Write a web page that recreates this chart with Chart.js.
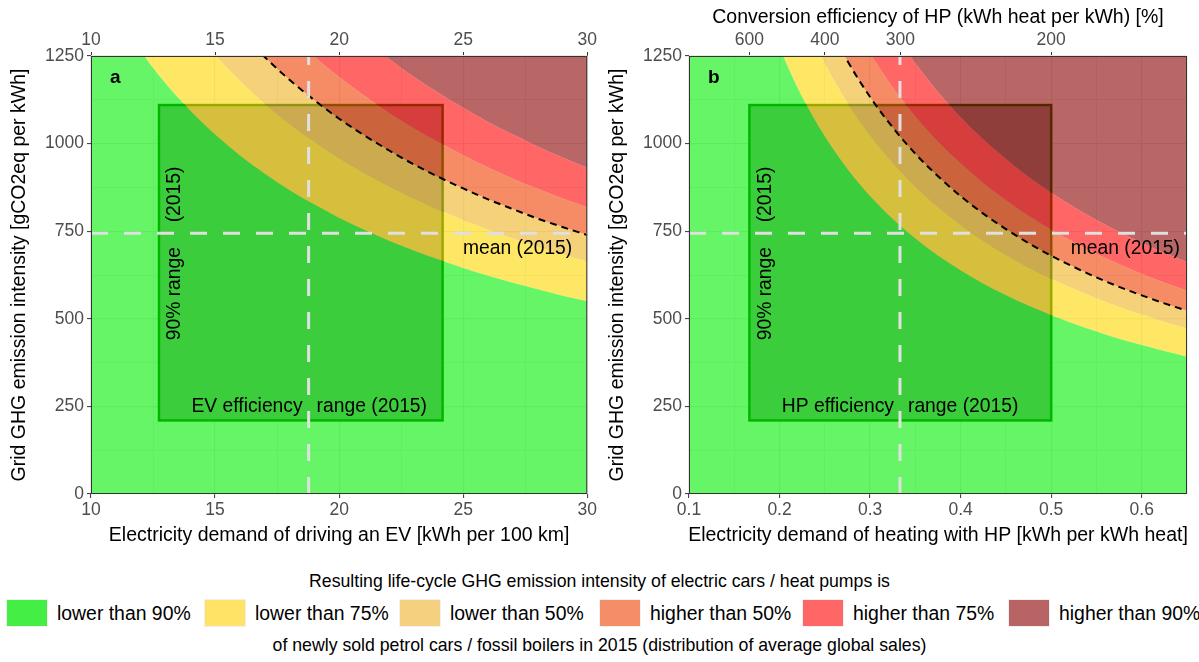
<!DOCTYPE html>
<html><head><meta charset="utf-8">
<script src="https://cdn.jsdelivr.net/npm/chart.js@4.4.1/dist/chart.umd.min.js"></script>
<style>
html,body{margin:0;padding:0;background:#fff;}
body{width:1199px;height:662px;overflow:hidden;position:relative;font-family:"Liberation Sans",Arial,Helvetica,sans-serif;}
canvas{position:absolute;top:0;}
.t{position:absolute;white-space:nowrap;color:#000;font-size:19.4px;line-height:22px;}
.t.c{font-size:17.7px;}
.k{position:absolute;width:42px;height:28px;top:599px;box-sizing:border-box;border:1px solid #f0f0f0;}
</style></head><body>
<canvas id="ca" width="600" height="560" style="left:0px"></canvas>
<canvas id="cb" width="599" height="560" style="left:600px"></canvas>
<div id="legend"></div>
<script>
// ---------- data ----------
// Panel a: electricity demand of EV [kWh/100km] vs. grid intensity boundaries [gCO2eq/kWh]
const evX    = [10,11,12,13,14,15,16,17,18,19,20,21,22,23,24,25,26,27,28,29,30];
const evP10  = [1502,1372,1264,1172,1094,1026,966,914,867,826,788,754,723,695,669,645,623,603,584,566,550];
const evP25  = [1842,1681,1547,1434,1337,1253,1179,1114,1056,1005,958,916,878,843,811,781,754,729,705,684,663];
const evP50  = [2069,1887,1736,1608,1499,1404,1321,1247,1182,1124,1071,1024,981,941,905,872,841,813,786,762,739];
const evP75  = [2306,2103,1934,1791,1668,1562,1469,1387,1314,1248,1190,1137,1088,1044,1004,967,932,900,871,843,818];
const evP90  = [2644,2410,2216,2051,1910,1787,1680,1586,1502,1427,1359,1298,1242,1191,1145,1102,1062,1026,992,960,931];
// Panel b: electricity demand of HP [kWh per kWh heat]
const hpX    = [0.1,0.15,0.175,0.2,0.225,0.25,0.275,0.3,0.325,0.35,0.375,0.4,0.425,0.45,0.475,0.5,0.525,0.55,0.575,0.6,0.625,0.65];
const hpP10  = [2550,1700,1457,1275,1133,1020,927,850,785,729,680,638,600,567,537,510,486,464,443,425,408,392];
const hpP25  = [3070,2047,1754,1535,1364,1228,1116,1023,945,877,819,768,722,682,646,614,585,558,534,512,491,472];
const hpP50  = [3400,2267,1943,1700,1511,1360,1236,1133,1046,971,907,850,800,756,716,680,648,618,591,567,544,523];
const hpP75  = [3770,2513,2154,1885,1676,1508,1371,1257,1160,1077,1005,943,887,838,794,754,718,685,656,628,603,580];
const hpP90  = [4300,2867,2457,2150,1911,1720,1564,1433,1323,1229,1147,1075,1012,956,905,860,819,782,748,717,688,662];
// 90% ranges (2015) and means
const evBoxX = [12.74, 24.17];
const hpBoxX = [0.1667, 0.5];
const gridBoxY = [210, 1110];
const gridMean = 744;
const evMeanDemand = 18.77;
const hpMeanDemand = 0.333;
// axis ranges and ticks
const evXRange = [10, 30];
const hpXRange = [0.1, 0.65];
const yRange = [0, 1250];
const hpTopTicks = [600, 400, 300, 200];   // conversion efficiency [%]
// legend
const legendLabels = ['lower than 90%','lower than 75%','lower than 50%','higher than 50%','higher than 75%','higher than 90%'];

// ---------- styles ----------
const FONT = '"Liberation Sans", Arial, Helvetica, sans-serif';
Chart.defaults.font.family = FONT;
const BAND = ['rgba(0,238,0,0.6)','rgba(255,215,0,0.6)','rgba(238,180,34,0.6)','rgba(238,64,0,0.6)','rgba(255,0,0,0.6)','rgba(139,0,0,0.6)'];
const KEY  = ['#44ee44','#ffe366','#f5d07e','#f58e68','#ff6666','#b96464'];
const TITLE_FONT = '19.5px ' + FONT;

function makePanel(id, o) {
  const pts = arr => o.xs.map((x, i) => ({x: x, y: arr[i]}));
  const band = (arr, fill, color) => ({data: pts(arr), fill: fill, backgroundColor: color,
      borderColor: 'rgba(0,0,0,0)', borderWidth: 0, pointRadius: 0,
      cubicInterpolationMode: 'monotone', order: 3});
  const datasets = [
    band(o.curves[0], 'origin', BAND[0]),
    band(o.curves[1], '-1', BAND[1]),
    band(o.curves[2], '-1', BAND[2]),
    band(o.curves[3], '-1', BAND[3]),
    band(o.curves[4], '-1', BAND[4]),
    band(o.curves[4], 'end', BAND[5]),
    {data: pts(o.curves[2]), fill: false, borderColor: '#000', borderWidth: 2, borderDash: [7, 5],
     pointRadius: 0, cubicInterpolationMode: 'monotone', order: 2},
    {data: [{x: o.range[0], y: gridMean}, {x: o.range[1], y: gridMean}], fill: false,
     borderColor: '#e0e0e0', borderWidth: 3, borderDash: [17, 16], pointRadius: 0, order: 1},
    {data: [{x: o.meanX, y: yRange[0]}, {x: o.meanX, y: yRange[1]}], fill: false,
     borderColor: '#e0e0e0', borderWidth: 3, borderDash: [17, 16], pointRadius: 0, order: 1}
  ];
  const isMajorX = v => o.isMajor(v);
  const tickFont = {family: FONT, size: 17.5, lineHeight: 1};
  const grid = (majorFn) => ({
    color: '#e8e8e8',
    lineWidth: c => (c.tick && majorFn(c.tick.value)) ? 1.2 : 0.7,
    tickLength: 4,
    tickColor: c => (c.tick && majorFn(c.tick.value)) ? '#333' : 'rgba(0,0,0,0)',
    tickWidth: 1
  });
  const panelPlugin = {
    id: 'panel_' + id,
    beforeDatasetsDraw(chart) {
      const {ctx, scales: {x, y}} = chart;
      const x0 = x.getPixelForValue(o.boxX[0]), x1 = x.getPixelForValue(o.boxX[1]);
      const y0 = y.getPixelForValue(gridBoxY[0]), y1 = y.getPixelForValue(gridBoxY[1]);
      ctx.save();
      ctx.fillStyle = 'rgb(150,156,150)';
      ctx.fillRect(x0, y1, x1 - x0, y0 - y1);
      ctx.strokeStyle = '#006400';
      ctx.lineWidth = 2.5;
      ctx.strokeRect(x0, y1, x1 - x0, y0 - y1);
      ctx.restore();
    },
    afterDatasetsDraw(chart) {
      const {ctx, chartArea: a, scales: {x, y}} = chart;
      ctx.save();
      ctx.strokeStyle = '#333'; ctx.lineWidth = 1;
      ctx.strokeRect(a.left + 0.5, a.top + 0.5, a.right - a.left - 1, a.bottom - a.top - 1);
      ctx.fillStyle = '#000';
      ctx.font = 'bold 19px ' + FONT;
      ctx.textAlign = 'left'; ctx.textBaseline = 'middle';
      ctx.fillText(o.letter, a.left + 19, a.top + 22);
      ctx.font = '19.3px ' + FONT;
      const ym = y.getPixelForValue(gridMean);
      const bx = x.getPixelForValue(o.boxX[0]) + 16;
      ctx.save();
      ctx.translate(bx, ym + 107); ctx.rotate(-Math.PI / 2);
      ctx.textAlign = 'left'; ctx.fillText('90% range', 0, 0);
      ctx.restore();
      ctx.save();
      ctx.translate(bx, ym - 11); ctx.rotate(-Math.PI / 2);
      ctx.textAlign = 'left'; ctx.fillText('(2015)', 0, 0);
      ctx.restore();
      const xm = x.getPixelForValue(o.meanX);
      const yb = y.getPixelForValue(250);
      ctx.textAlign = 'right'; ctx.fillText(o.effLabel, xm - 6, yb);
      ctx.textAlign = 'left'; ctx.fillText('range (2015)', xm + 8, yb);
      ctx.textAlign = 'right'; ctx.fillText('mean (2015)', a.right - o.meanPad, ym + 15);
      ctx.font = TITLE_FONT;
      ctx.textAlign = 'center';
      ctx.fillText(o.xTitle, (a.left + a.right) / 2, 536);
      if (o.topTitle) ctx.fillText(o.topTitle, (a.left + a.right) / 2, 18);
      ctx.save();
      ctx.translate(o.yTitleX, (a.top + a.bottom) / 2); ctx.rotate(-Math.PI / 2);
      ctx.fillText('Grid GHG emission intensity [gCO2eq per kWh]', 0, 0);
      ctx.restore();
      ctx.restore();
    }
  };
  const topAxis = {
    type: 'linear', position: 'top', min: o.range[0], max: o.range[1],
    grid: {drawOnChartArea: false, tickLength: 4, tickColor: '#333', tickWidth: 1},
    border: {display: false},
    ticks: {autoSkip: false, maxRotation: 0, padding: 3, color: '#4d4d4d', font: tickFont,
            callback: o.topCallback},
    afterFit: s => { s.height = 56; }
  };
  if (o.topStep) topAxis.ticks.stepSize = o.topStep;
  if (o.topTicks) topAxis.afterBuildTicks = s => { s.ticks = o.topTicks.map(v => ({value: v})); };
  return new Chart(document.getElementById(id), {
    type: 'line',
    data: {datasets: datasets},
    options: {
      responsive: false, animation: false, events: [],
      layout: {padding: {left: 0, right: 12, top: 0, bottom: 0}},
      plugins: {legend: {display: false}, tooltip: {enabled: false}},
      scales: {
        x: {type: 'linear', position: 'bottom', min: o.range[0], max: o.range[1],
            grid: grid(isMajorX), border: {display: false},
            ticks: {stepSize: o.step, autoSkip: false, maxRotation: 0, padding: 3, color: '#4d4d4d', font: tickFont,
                    callback: v => isMajorX(v) ? o.fmt(v) : ''},
            afterFit: s => { s.height = 66; }},
        xt: topAxis,
        y: {type: 'linear', position: 'left', min: yRange[0], max: yRange[1],
            grid: grid(v => Math.abs(v % 250) < 1e-6), border: {display: false},
            ticks: {stepSize: 125, autoSkip: false, padding: 3, color: '#4d4d4d', font: tickFont,
                    callback: v => (v % 250 === 0) ? String(v) : ''},
            afterFit: s => { s.width = o.yWidth; }}
      }
    },
    plugins: [panelPlugin]
  });
}

makePanel('ca', {
  xs: evX, curves: [evP10, evP25, evP50, evP75, evP90], range: evXRange, step: 2.5,
  isMajor: v => Math.abs(v % 5) < 1e-6, fmt: v => String(v),
  boxX: evBoxX, meanX: evMeanDemand, letter: 'a', effLabel: 'EV efficiency', meanPad: 15,
  xTitle: 'Electricity demand of driving an EV [kWh per 100 km]', yTitleX: 20, yWidth: 91,
  topStep: 5, topCallback: v => String(v)
});
makePanel('cb', {
  xs: hpX, curves: [hpP10, hpP25, hpP50, hpP75, hpP90], range: hpXRange, step: 0.05,
  isMajor: v => Math.abs(v * 10 - Math.round(v * 10)) < 1e-6, fmt: v => v.toFixed(1),
  boxX: hpBoxX, meanX: hpMeanDemand, letter: 'b', effLabel: 'HP efficiency', meanPad: 7,
  xTitle: 'Electricity demand of heating with HP [kWh per kWh heat]', yTitleX: 18, yWidth: 89,
  topTitle: 'Conversion efficiency of HP (kWh heat per kWh) [%]',
  topTicks: hpTopTicks.map(p => 100 / p), topCallback: v => String(Math.round(100 / v))
});

// ---------- legend (HTML) ----------
const lg = document.getElementById('legend');
function addText(txt, left, cy, center) {
  const d = document.createElement('div');
  d.className = center ? 't c' : 't'; d.textContent = txt;
  d.style.top = (cy - 11) + 'px';
  if (center) { d.style.left = '0px'; d.style.width = '1199px'; d.style.textAlign = 'center'; }
  else d.style.left = left + 'px';
  lg.appendChild(d);
}
addText('Resulting life-cycle GHG emission intensity of electric cars / heat pumps is', 0, 581, true);
const keyLeft = [6, 204, 399, 599, 802, 1008];
legendLabels.forEach((lab, i) => {
  const k = document.createElement('div');
  k.className = 'k'; k.style.left = keyLeft[i] + 'px'; k.style.background = KEY[i];
  lg.appendChild(k);
  addText(lab, keyLeft[i] + 51, 613, false);
});
addText('of newly sold petrol cars / fossil boilers in 2015 (distribution of average global sales)', 0, 645, true);
</script>
</body></html>
